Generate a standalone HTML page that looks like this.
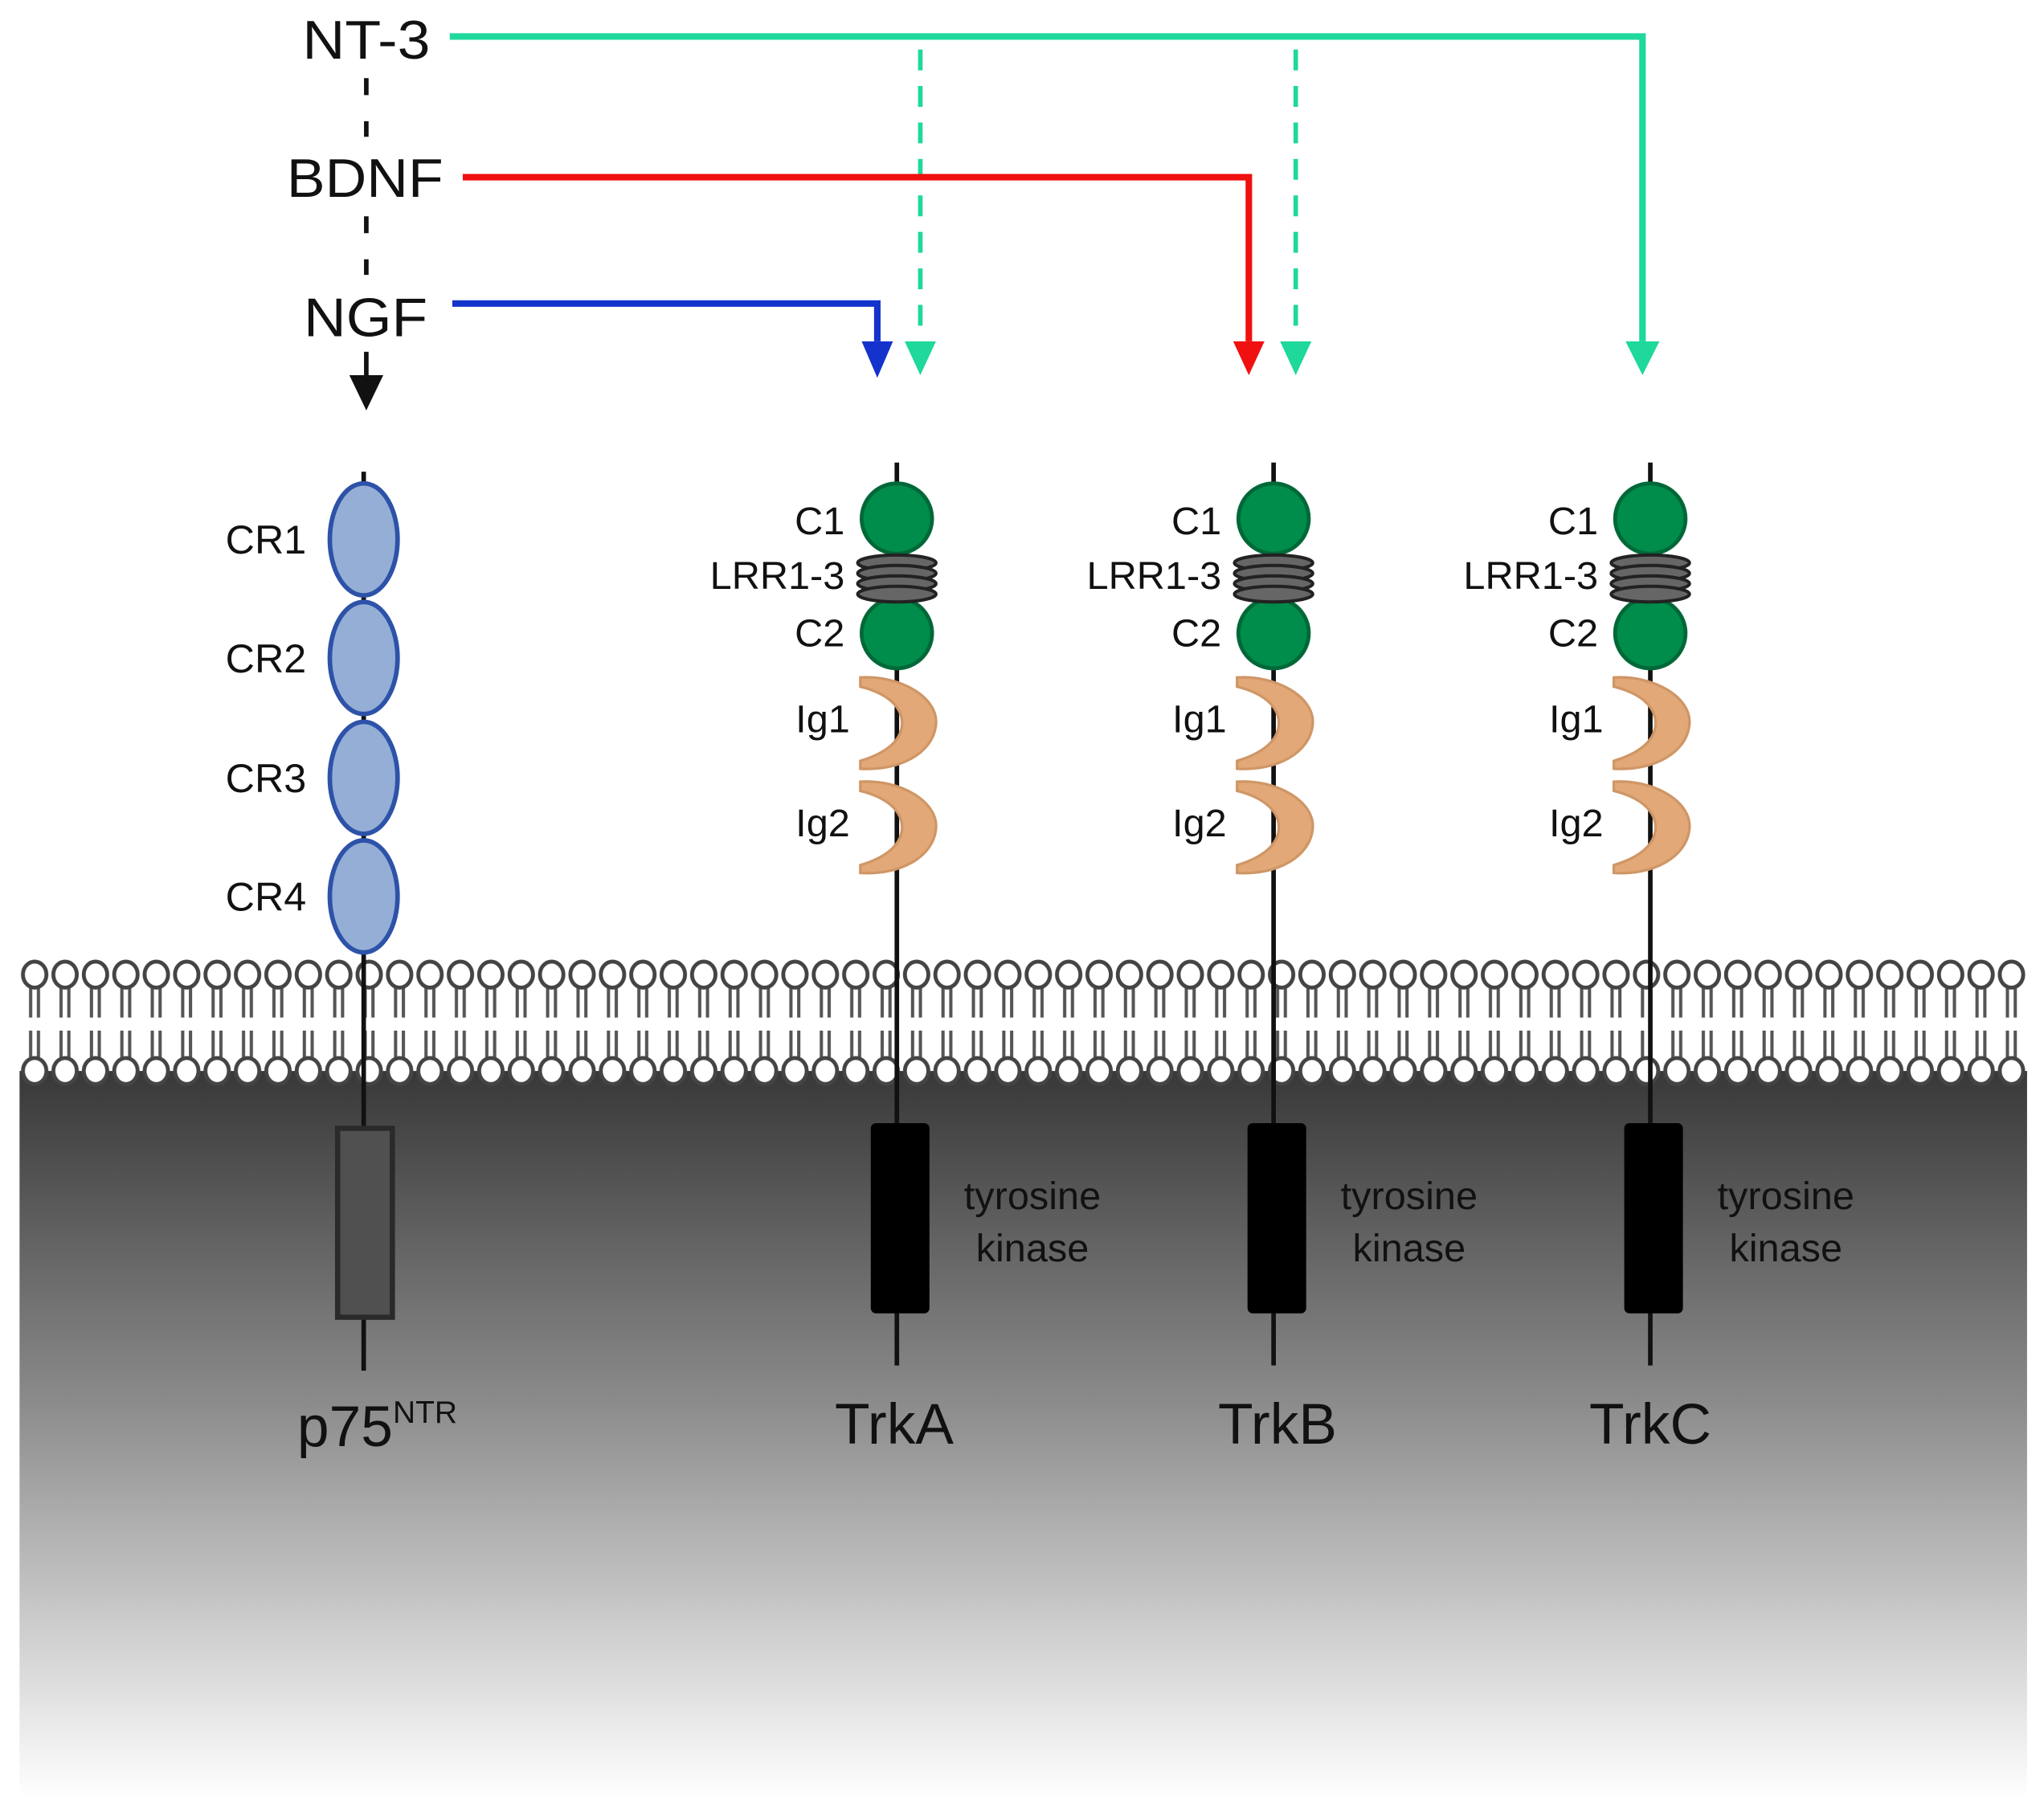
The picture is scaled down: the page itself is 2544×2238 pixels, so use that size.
<!DOCTYPE html>
<html><head><meta charset="utf-8"><style>html,body{margin:0;padding:0;background:#fff}svg{display:block}text{font-family:"Liberation Sans",sans-serif;fill:#111}</style></head>
<body>
<svg width="2544" height="2238" viewBox="0 0 1568 1380" preserveAspectRatio="none" xmlns="http://www.w3.org/2000/svg">
<defs>
<linearGradient id="g" x1="0" y1="0" x2="0" y2="1">
<stop offset="0" stop-color="#383838"/><stop offset="0.45" stop-color="#8a8a8a"/><stop offset="1" stop-color="#ffffff"/></linearGradient>
<pattern id="mem" x="15" y="735" width="23.33" height="100" patternUnits="userSpaceOnUse">
<line x1="8.5" y1="22" x2="8.5" y2="46" stroke="#555" stroke-width="2.5"/>
<line x1="14.5" y1="22" x2="14.5" y2="46" stroke="#555" stroke-width="2.5"/>
<line x1="8.5" y1="56" x2="8.5" y2="78" stroke="#555" stroke-width="2.5"/>
<line x1="14.5" y1="56" x2="14.5" y2="78" stroke="#555" stroke-width="2.5"/>
<ellipse cx="11.6" cy="13" rx="9" ry="10" fill="#fff" stroke="#444" stroke-width="3"/>
<ellipse cx="11.6" cy="87" rx="9" ry="10" fill="#fff" stroke="#444" stroke-width="3"/>
</pattern>
</defs>
<rect x="15" y="822" width="1540" height="558" fill="url(#g)"/>
<rect x="15" y="735" width="1540" height="100" fill="url(#mem)"/>

<!-- ligands -->
<text x="232" y="45" font-size="42" textLength="98" lengthAdjust="spacingAndGlyphs">NT-3</text>
<text x="220" y="151" font-size="42" textLength="120" lengthAdjust="spacingAndGlyphs">BDNF</text>
<text x="233" y="258" font-size="42" textLength="95" lengthAdjust="spacingAndGlyphs">NGF</text>
<line x1="281" y1="60" x2="281" y2="105" stroke="#111" stroke-width="3.5" stroke-dasharray="13,20"/>
<line x1="281" y1="166" x2="281" y2="211" stroke="#111" stroke-width="3.5" stroke-dasharray="13,20"/>
<line x1="281" y1="270" x2="281" y2="292" stroke="#111" stroke-width="3.5"/>
<polygon points="268,288 294,288 281,315" fill="#111"/>

<polyline points="345,28 1260,28 1260,262" fill="none" stroke="#1ed89c" stroke-width="5"/>
<polygon points="1247,262 1273,262 1260,288" fill="#1ed89c"/>
<line x1="706" y1="38" x2="706" y2="262" stroke="#1ed89c" stroke-width="3.5" stroke-dasharray="16,12"/>
<polygon points="694,262 718,262 706,288" fill="#1ed89c"/>
<line x1="994" y1="38" x2="994" y2="262" stroke="#1ed89c" stroke-width="3.5" stroke-dasharray="16,12"/>
<polygon points="982,262 1006,262 994,288" fill="#1ed89c"/>
<polyline points="355,136 958,136 958,262" fill="none" stroke="#f01010" stroke-width="5"/>
<polygon points="946,262 970,262 958,288" fill="#f01010"/>
<polyline points="347,233 673,233 673,262" fill="none" stroke="#1433cc" stroke-width="5"/>
<polygon points="661,262 685,262 673,290" fill="#1433cc"/>

<!-- p75 -->
<line x1="279" y1="362" x2="279" y2="1052" stroke="#111" stroke-width="3.5"/>
<g fill="#94aed6" stroke="#2d52a8" stroke-width="3.5">
<ellipse cx="279" cy="414" rx="26" ry="43"/><ellipse cx="279" cy="505" rx="26" ry="43"/>
<ellipse cx="279" cy="597" rx="26" ry="43"/><ellipse cx="279" cy="688" rx="26" ry="43"/></g>
<g font-size="31"><text x="173" y="425">CR1</text><text x="173" y="516">CR2</text><text x="173" y="608">CR3</text><text x="173" y="699">CR4</text></g>
<rect x="259" y="866" width="42" height="145" fill="#505050" stroke="#2a2a2a" stroke-width="4"/>
<text x="228" y="1110" font-size="44">p75<tspan font-size="24" dy="-18">NTR</tspan></text>

<!-- Trk receptors -->
<g id="trk">
<line x1="688" y1="355" x2="688" y2="1048" stroke="#111" stroke-width="3.5"/>
<circle cx="688" cy="398" r="27" fill="#008c4a" stroke="#006838" stroke-width="3"/>
<circle cx="688" cy="486" r="27" fill="#008c4a" stroke="#006838" stroke-width="3"/>
<g fill="#666" stroke="#222" stroke-width="2.5">
<ellipse cx="688" cy="432" rx="30" ry="6"/><ellipse cx="688" cy="440" rx="30" ry="6"/><ellipse cx="688" cy="448" rx="30" ry="6"/><ellipse cx="688" cy="456" rx="30" ry="6"/></g>
<path d="M660,520 C690,518 720,535 718,556 C716,578 690,592 660,590 L660,584 C680,578 692,568 692,555 C692,542 680,532 660,527 Z" fill="#e2a877" stroke="#cf9666" stroke-width="2"/>
<path d="M660,600 C690,598 720,615 718,636 C716,658 690,672 660,670 L660,664 C680,658 692,648 692,635 C692,622 680,612 660,607 Z" fill="#e2a877" stroke="#cf9666" stroke-width="2"/>
<rect x="668" y="862" width="45" height="146" rx="4" fill="#000"/>
<g font-size="30">
<text x="648" y="410" text-anchor="end">C1</text>
<text x="648" y="452" text-anchor="end">LRR1-3</text>
<text x="648" y="496" text-anchor="end">C2</text>
<text x="652" y="562" text-anchor="end">Ig1</text>
<text x="652" y="642" text-anchor="end">Ig2</text>
<text x="792" y="928" text-anchor="middle">tyrosine</text>
<text x="792" y="968" text-anchor="middle">kinase</text>
</g>
</g>
<use href="#trk" x="289"/>
<use href="#trk" x="578"/>
<g font-size="44" text-anchor="middle">
<text x="686" y="1108">TrkA</text><text x="980" y="1108">TrkB</text><text x="1266" y="1108">TrkC</text></g>
</svg>
</body></html>
